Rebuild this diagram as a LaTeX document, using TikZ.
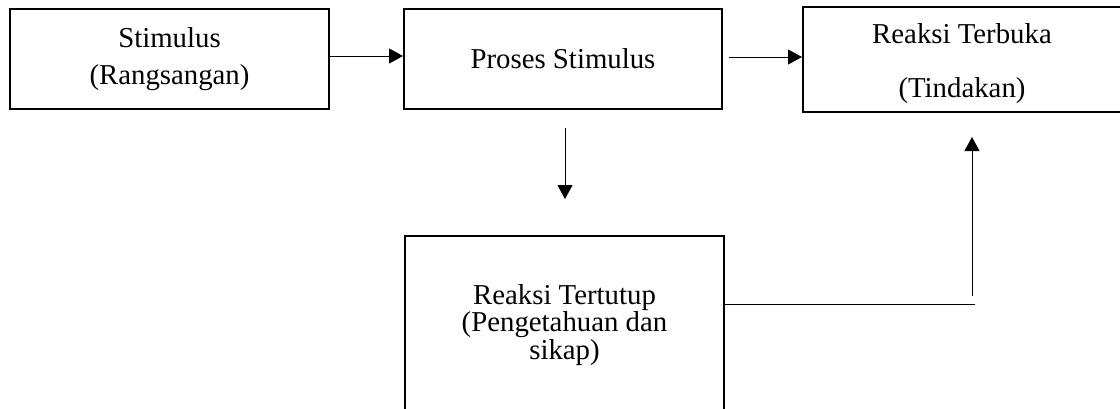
\documentclass[tikz,border=0pt]{standalone}
\usepackage{fontspec}
\setmainfont{Liberation Serif}
\usetikzlibrary{arrows.meta,calc}
\begin{document}
\begin{tikzpicture}[x=1pt,y=-1pt,
  box/.style={draw,line width=2pt,rectangle,inner sep=0pt,align=center},
  txt/.style={inner sep=0pt,align=center},
  conn/.style={line width=1pt},
  arr/.style={conn,-{Triangle[length=14pt,width=15pt]}}]
\useasboundingbox (0,0) rectangle (1120,408);
\node[box,minimum width=319pt,minimum height=100pt,font=\fontsize{28.8pt}{37pt}\selectfont] (b1) at (169.5,59) {Stimulus\\(Rangsangan)};
\node[box,minimum width=318pt,minimum height=100pt,font=\fontsize{28.8pt}{34pt}\selectfont] (b2) at (563,59) {Proses Stimulus};
\node[box,minimum width=318pt,minimum height=105pt] (b3) at (962,59.5) {};
\node[txt,font=\fontsize{28.8pt}{54pt}\selectfont] (t3) at ($(b3.center)+(0,4)$) {Reaksi Terbuka\\(Tindakan)};
\node[box,minimum width=319pt,minimum height=174pt] (b4) at (564.5,323) {};
\node[txt,font=\fontsize{28.8pt}{26pt}\selectfont] (t4) at ($(b4.center)+(0,2)$) {Reaksi Tertutup\\(Pengetahuan dan\\sikap)};
% connectors
\coordinate (a2s) at ($(b2.east)+(6,-2)$);
\coordinate (a3s) at ($(b2.south)+(2,18)$);
\coordinate (a3e) at ($(b2.south)+(2,89)$);
\coordinate (h1e) at (975,304);
\coordinate (v1s) at (972,296);
\coordinate (v1e) at (972,137);
\draw[arr] (b1.east |- 0,56) -- (b2.west |- 0,56);
\draw[arr] (a2s) -- (b3.west |- a2s);
\draw[arr] (a3s) -- (a3e);
\draw[conn] (b4.east |- h1e) -- (h1e);
\draw[arr] (v1s) -- (v1e);
\end{tikzpicture}
\end{document}
